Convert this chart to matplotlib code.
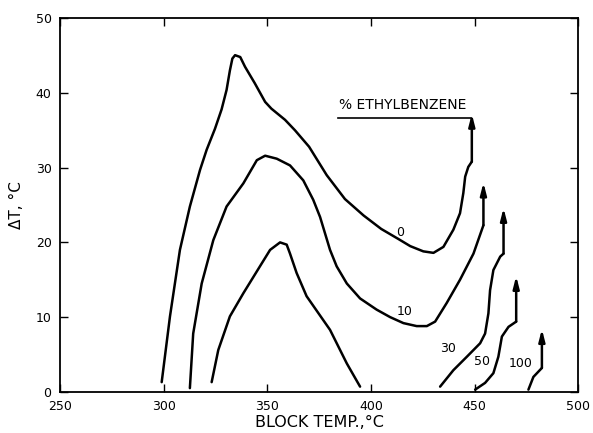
import matplotlib.pyplot as plt

# Delta T vs block temperature for ethylbenzene blends (% ethylbenzene)
temp_0 = [299.1, 303.1, 307.9, 312.7, 317.6, 320.8, 324.8, 328, 330.4, 332, 333.2,
          334.5, 337, 339.3, 344, 349, 352, 358.6, 363.4, 370.2, 378.7, 387.5,
          396.5, 405, 413, 419, 425.3, 430.2, 435, 439.8, 443, 444.6, 445.5, 447, 448.7]
dt_0 = [1.3, 10.1, 19, 24.8, 29.7, 32.4, 35.2, 37.8, 40.4, 43, 44.6,
        45.05, 44.8, 43.5, 41.3, 38.8, 37.9, 36.4, 35, 32.8, 29, 25.8,
        23.6, 21.8, 20.5, 19.5, 18.8, 18.6, 19.4, 21.7, 23.9, 26.6, 28.8, 30.1, 30.8]

temp_10 = [312.7, 314.3, 318.4, 324, 330.4, 338.5, 345, 349, 354.6, 361, 367.4, 372.2,
           375.5, 377.9, 380.3, 383.5, 388.4, 394.8, 402.8, 409.3, 415.7, 422.1, 427,
           431, 436.6, 443, 449.5, 454.3]
dt_10 = [0.5, 7.8, 14.5, 20.3, 24.8, 27.9, 31, 31.6, 31.2, 30.3, 28.3, 25.7,
         23.4, 21.2, 19, 16.8, 14.5, 12.5, 11, 10, 9.2, 8.8, 8.8,
         9.4, 11.9, 15, 18.5, 22.3]

temp_30_low = [323.2, 326.4, 332, 338.5, 346.5, 351.4, 356.2, 359.4, 361, 364.2, 369,
               380.3, 388.4, 394.8]
dt_30_low = [1.3, 5.6, 10.1, 13.2, 16.8, 19, 20, 19.7, 18.5, 15.9, 12.8,
             8.3, 3.8, 0.7]

temp_30_high = [433.4, 439.8, 446.3, 452.7, 455.1, 456.7, 457.5, 459.1, 462.4, 464]
dt_30_high = [0.7, 2.9, 4.7, 6.5, 7.8, 10.5, 13.6, 16.3, 18.1, 18.5]

temp_50 = [450.3, 455.1, 459.1, 461.5, 463.2, 466.4, 470.1]
dt_50 = [0.3, 1.2, 2.5, 4.7, 7.4, 8.7, 9.4]

temp_100 = [476, 478.4, 482.5]
dt_100 = [0.3, 2, 3.2]

# ignition jumps: (block temp, start dT, arrow tip dT)
jumps = [(448.7, 30.8, 37.2), (454.3, 22.3, 28.0), (464, 18.5, 24.6),
         (470.1, 9.4, 15.5), (482.5, 3.2, 8.4)]

curve_labels = ['0', '10', '30', '50', '100']
label_pos = [(414.1, 21.3), (416.5, 10.7), (437.4, 5.8), (453.5, 4.05), (472, 3.8)]

fig = plt.figure(figsize=(5.93, 4.33), dpi=100)
ax = fig.add_axes([0.101, 0.095, 0.874, 0.863])

line_kw = dict(color='black', lw=1.8, solid_joinstyle='round', solid_capstyle='round')
for xs, ys in [(temp_0, dt_0), (temp_10, dt_10), (temp_30_low, dt_30_low),
               (temp_30_high, dt_30_high), (temp_50, dt_50), (temp_100, dt_100)]:
    ax.plot(xs, ys, **line_kw)

for x, y0, y1 in jumps:
    ax.annotate('', xy=(x, y1), xytext=(x, y0),
                arrowprops=dict(arrowstyle='-|>,head_length=0.7,head_width=0.18',
                                color='black', lw=1.8, shrinkA=0, shrinkB=0))

for lab, (x, y) in zip(curve_labels, label_pos):
    ax.text(x, y, lab, fontsize=9, ha='center', va='center')

ax.text(415.5, 38.4, '% ETHYLBENZENE', fontsize=10, ha='center', va='center')
ax.plot([384, 448.5], [36.6, 36.6], color='black', lw=1.2)

ax.set_xlim(250, 500)
ax.set_ylim(0, 50)
ax.set_xticks([250, 300, 350, 400, 450, 500])
ax.set_yticks([0, 10, 20, 30, 40, 50])
ax.tick_params(direction='in', length=6, width=1, top=True, right=True,
               labelsize=9, pad=6)
for s in ax.spines.values():
    s.set_linewidth(1.3)

ax.set_xlabel('BLOCK TEMP.,°C', fontsize=11.5, labelpad=1)
ax.set_ylabel('ΔT, °C', fontsize=11, labelpad=8)

fig.savefig('out.png', dpi=100)
